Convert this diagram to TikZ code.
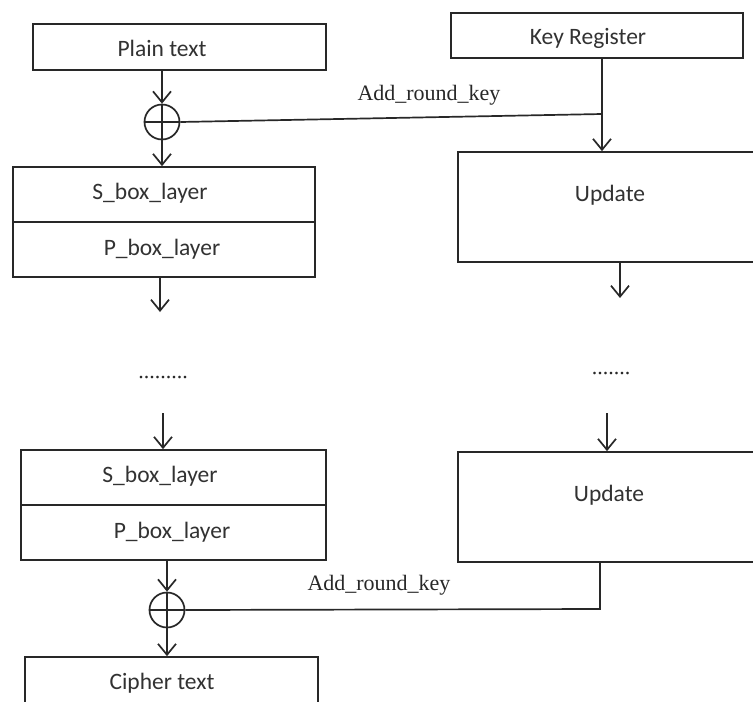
\documentclass[tikz,border=0pt]{standalone}
\usepackage{fontspec}
\setmainfont{Liberation Serif}
\newfontfamily\carlfont{Carlito}
\usetikzlibrary{arrows.meta}
\definecolor{ink}{RGB}{40,40,40}
\definecolor{txt}{RGB}{50,50,50}
\tikzset{
  box/.style={draw=ink, line width=1.7pt, rectangle, inner sep=0pt},
  boxtext/.style={font=\carlfont\fontsize{23.5}{27}\selectfont, text=txt, inner sep=0pt},
  lbl/.style={font=\fontsize{22}{26}\selectfont, text=ink, inner sep=0pt},
  xorc/.style={draw=ink, line width=1.7pt, circle, minimum size=35pt, inner sep=0pt},
  conn/.style={draw=ink, line width=1.7pt},
  arr/.style={conn, -{Straight Barb[length=11pt,width=18pt,line width=1.7pt]}},
}
\begin{document}
\begin{tikzpicture}[x=1pt,y=-1pt]
\useasboundingbox (0,0) rectangle (753,702);
\fill[white] (0,0) rectangle (753,702);
\clip (0,0) rectangle (753,702);
% left column
\node[box, minimum width=293pt, minimum height=46pt] (plain) at (179.5,47) {};
\node[boxtext] (plaint) at (162,48) {Plain text};
\node[xorc] (xor1) at (162,122) {};
\draw[conn] (xor1.north) -- (xor1.south) (xor1.west) -- (xor1.east);
\node[box, minimum width=302pt, minimum height=110pt] (sp1) at (164,222) {};
\draw[conn] (sp1.west) -- (sp1.east);
\node[boxtext] (s1t) at (150,193) {S\_box\_layer};
\node[boxtext] (p1t) at (162,249) {P\_box\_layer};
\draw[arr] (plain.south -| xor1) -- (xor1.north);
\draw[arr] (xor1.south) -- (sp1.north -| xor1);
\coordinate (a1e) at (160,312);
\draw[arr] (sp1.south -| a1e) -- (a1e);
\node[lbl] (dotsl) at (163,378) {.........};
\node[box, minimum width=305pt, minimum height=110pt] (sp2) at (173.5,505) {};
\draw[conn] (sp2.west) -- (sp2.east);
\node[boxtext] (s2t) at (160,476) {S\_box\_layer};
\node[boxtext] (p2t) at (172,532) {P\_box\_layer};
\coordinate (a2s) at (163,413);
\draw[arr] (a2s) -- (sp2.north -| a2s);
\node[xorc] (xor2) at (167,610) {};
\draw[conn] (xor2.north) -- (xor2.south) (xor2.west) -- (xor2.east);
\draw[arr] (sp2.south -| xor2) -- (xor2.north);
\node[box, minimum width=293pt, minimum height=48pt] (cipher) at (171.5,681) {};
\node[boxtext] (ciphert) at (162,683) {Cipher text};
\draw[arr] (xor2.south) -- (cipher.north -| xor2);
% right column
\node[box, minimum width=292pt, minimum height=45pt] (key) at (597,35.5) {};
\node[boxtext] (keyt) at (588,38) {Key Register};
\node[box, minimum width=320pt, minimum height=110pt] (up1) at (618,207) {};
\node[boxtext] (up1t) at (610,195) {Update};
\coordinate (kx) at (602,114);
\draw[arr] (key.south -| kx) -- (up1.north -| kx);
\draw[conn] (xor1.east) -- (kx);
\node[lbl] (ark1) at (429,95) {Add\_round\_key};
\coordinate (a3e) at (620,298);
\draw[arr] (up1.south -| a3e) -- (a3e);
\node[lbl] (dotsr) at (611,374) {.......};
\node[box, minimum width=320pt, minimum height=110pt] (up2) at (618,507) {};
\node[boxtext] (up2t) at (609,495) {Update};
\coordinate (a4s) at (607,413);
\draw[arr] (a4s) -- (up2.north -| a4s);
\coordinate (kb) at (600,609);
\draw[conn] (up2.south -| kb) -- (kb) -- (xor2.east);
\node[lbl] (ark2) at (379,585) {Add\_round\_key};
\end{tikzpicture}
\end{document}
